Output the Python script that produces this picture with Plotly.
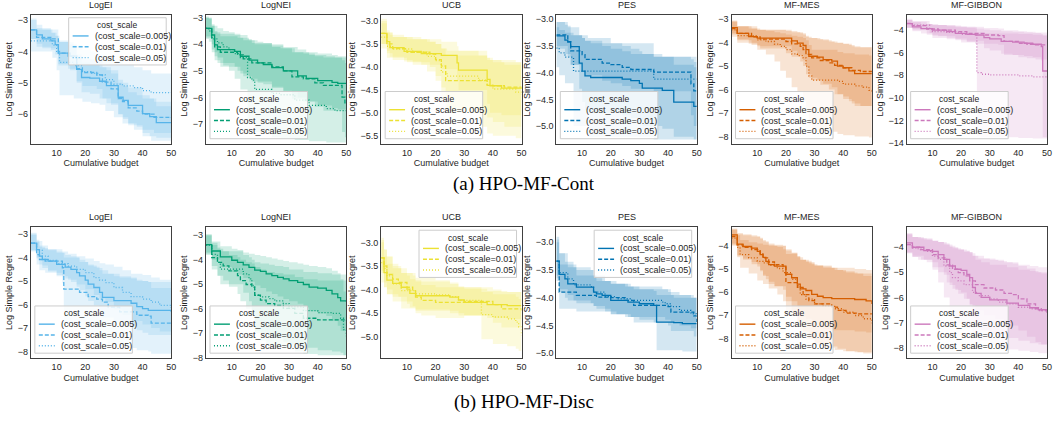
import plotly.graph_objects as go

# ---------------------------------------------------------------- data
# each row: (cumulative budget, mean log simple regret, lower band, upper band)
methods = ["LogEI", "LogNEI", "UCB", "PES", "MF-MES", "MF-GIBBON"]
cost_scales = ["0.005", "0.01", "0.05"]
legend_title = "cost_scale"
captions = ["(a) HPO-MF-Cont", "(b) HPO-MF-Disc"]

# ---- (a) HPO-MF-Cont
cont_logei_005 = [(1, -3.31, -3.6, -2.95), (3, -3.47, -3.75, -3.15), (5, -3.6, -3.9, -3.3), (8, -3.66, -3.95, -3.4),
                  (9.5, -3.78, -4.1, -3.5), (10.6, -4.05, -4.45, -3.65), (14.7, -4.15, -4.6, -3.75), (17, -4.57, -5.0, -4.1),
                  (18.7, -4.83, -5.3, -4.35), (21.6, -4.85, -5.35, -4.4), (25, -4.95, -5.5, -4.5), (27.4, -5.09, -5.65, -4.6),
                  (31.5, -5.46, -6.0, -4.9), (33.2, -5.56, -6.15, -5.0), (35, -5.72, -6.35, -5.15), (40, -5.98, -6.6, -5.4),
                  (42.5, -6.08, -6.7, -5.5), (44.8, -6.27, -6.75, -5.75), (50, -6.28, -6.75, -5.75)]
cont_logei_01 = [(1, -3.31, -3.6, -3.0), (3, -3.55, -3.85, -3.25), (8, -3.6, -3.9, -3.3), (10.6, -4.05, -4.4, -3.7),
                 (14, -4.15, -4.55, -3.8), (17, -4.55, -4.95, -4.15), (19, -4.67, -5.1, -4.25), (24, -4.75, -5.2, -4.3),
                 (26, -4.98, -5.5, -4.5), (29, -5.19, -5.7, -4.7), (31.5, -5.5, -6.0, -5.0), (33, -5.6, -6.1, -5.1),
                 (35, -5.8, -6.3, -5.3), (38, -5.9, -6.4, -5.4), (40, -6.0, -6.5, -5.5), (44, -6.1, -6.6, -5.6),
                 (50, -6.12, -6.6, -5.6)]
cont_logei_05 = [(1, -3.66, -4.0, -3.3), (8.5, -3.8, -4.2, -3.4), (10, -4.0, -4.6, -3.5), (11, -4.35, -5.4, -3.7),
                 (16, -4.45, -5.5, -3.8), (19, -4.64, -5.6, -3.95), (22, -4.7, -5.65, -4.0), (25, -4.75, -5.7, -4.1),
                 (27, -4.9, -5.9, -4.2), (30, -5.04, -6.1, -4.3), (33, -5.1, -6.3, -4.4), (37, -5.15, -6.5, -4.5),
                 (40, -5.25, -6.7, -4.6), (43, -5.31, -6.85, -4.7), (50, -5.32, -6.85, -4.75)]

cont_lognei_005 = [(1, -3.4, -3.7, -3.0), (3, -3.65, -4.0, -3.25), (4, -4.02, -4.45, -3.5), (5, -4.2, -4.7, -3.6),
                   (11, -4.27, -4.85, -3.65), (13, -4.45, -5.1, -3.75), (16, -4.6, -5.3, -3.85), (19, -4.7, -5.45, -3.9),
                   (21, -4.76, -5.5, -3.95), (24, -4.88, -5.65, -4.0), (28, -5.0, -5.8, -4.1), (33, -5.19, -6.0, -4.2),
                   (36, -5.28, -6.15, -4.3), (40, -5.37, -6.3, -4.35), (45, -5.43, -6.4, -4.4), (47, -5.47, -6.45, -4.45),
                   (50, -5.47, -6.45, -4.45)]
cont_lognei_01 = [(1, -3.4, -3.75, -3.0), (3, -3.75, -4.2, -3.3), (4, -4.1, -4.6, -3.55), (6, -4.3, -4.85, -3.7),
                  (12, -4.4, -5.0, -3.75), (14, -4.55, -5.2, -3.85), (17, -4.7, -5.4, -3.95), (24, -4.85, -5.6, -4.05),
                  (28, -5.0, -5.75, -4.15), (31, -5.23, -6.05, -4.3), (35, -5.3, -6.15, -4.35), (39, -5.45, -6.35, -4.45),
                  (42, -5.55, -6.5, -4.5), (48.5, -5.99, -7.3, -4.6), (49.5, -6.2, -7.5, -4.7), (50, -6.2, -7.5, -4.7)]
cont_lognei_05 = [(1, -3.4, -3.8, -2.95), (2, -3.5, -3.9, -3.05), (3, -3.8, -4.3, -3.3), (5, -3.95, -4.5, -3.4),
                  (7, -4.1, -4.8, -3.5), (9, -4.2, -5.0, -3.55), (11, -4.35, -5.3, -3.6), (13, -4.5, -5.7, -3.65),
                  (15.5, -5.25, -6.8, -3.8), (17, -5.35, -7.0, -3.85), (18, -5.7, -7.3, -4.0), (24, -5.85, -7.5, -4.1),
                  (27, -5.9, -7.55, -4.15), (32, -6.1, -7.6, -4.3), (37, -6.3, -7.65, -4.4), (43, -6.42, -7.7, -4.45),
                  (46, -6.5, -7.7, -4.5), (50, -6.52, -7.7, -4.5)]

cont_ucb_005 = [(1, -3.27, -3.5, -2.95), (3, -3.45, -3.65, -3.2), (4, -3.58, -3.78, -3.3), (9, -3.66, -3.88, -3.35),
                (15, -3.71, -3.95, -3.4), (22, -3.75, -4.05, -3.45), (27.5, -3.91, -4.3, -3.55), (28, -4.07, -4.5, -3.65),
                (38, -4.27, -4.8, -3.8), (39, -4.41, -5.0, -3.85), (43, -4.46, -5.05, -3.9), (50, -4.48, -5.1, -3.95)]
cont_ucb_01 = [(1, -3.27, -3.5, -3.0), (3, -3.5, -3.7, -3.25), (5, -3.6, -3.8, -3.35), (10, -3.68, -3.9, -3.4),
               (18, -3.72, -4.0, -3.45), (20, -3.84, -4.2, -3.5), (22, -3.98, -4.45, -3.6), (23.5, -4.3, -4.9, -3.75),
               (38, -4.4, -5.1, -3.85), (40, -4.41, -5.2, -3.9), (44, -4.44, -5.3, -3.95), (50, -4.47, -5.35, -4.0)]
cont_ucb_05 = [(1, -3.35, -3.6, -3.05), (3, -3.55, -3.8, -3.25), (5, -3.61, -3.85, -3.35), (12, -3.68, -3.95, -3.4),
               (17, -3.77, -4.1, -3.45), (20, -3.86, -4.3, -3.5), (22, -4.11, -4.7, -3.6), (24, -4.2, -5.0, -3.65),
               (35, -4.29, -5.3, -3.75), (38, -4.4, -5.45, -3.8), (40, -4.48, -5.5, -3.85), (48, -4.55, -5.55, -3.9),
               (50, -4.61, -5.6, -3.95)]

cont_pes_005 = [(1, -3.31, -3.55, -3.05), (4, -3.39, -3.65, -3.1), (5, -3.42, -3.7, -3.12), (6, -3.51, -3.85, -3.15),
                (9, -3.82, -4.3, -3.3), (10, -3.97, -4.55, -3.35), (11, -4.06, -4.7, -3.4), (13, -4.09, -4.75, -3.45),
                (24, -4.12, -4.8, -3.5), (27, -4.15, -4.85, -3.55), (30, -4.2, -4.9, -3.6), (31, -4.29, -5.0, -3.65),
                (38, -4.33, -5.05, -3.7), (42, -4.55, -5.2, -3.85), (49, -4.63, -5.25, -3.9), (50, -4.64, -5.25, -3.9)]
cont_pes_01 = [(1, -3.29, -3.5, -3.05), (5, -3.42, -3.65, -3.15), (6, -3.59, -3.85, -3.3), (10, -3.66, -3.95, -3.35),
               (11, -3.75, -4.05, -3.4), (17, -3.82, -4.15, -3.5), (20, -3.85, -4.2, -3.55), (24, -3.9, -4.25, -3.6),
               (27, -3.94, -4.3, -3.65), (35, -3.99, -4.35, -3.7), (48, -4.21, -4.8, -3.75), (49, -4.34, -5.0, -3.8),
               (50, -4.35, -5.0, -3.8)]
cont_pes_05 = [(1, -3.54, -3.9, -3.15), (2, -3.63, -4.05, -3.2), (4, -3.71, -4.2, -3.25), (7, -3.97, -5.0, -3.3),
               (12, -3.97, -5.2, -3.35), (20, -3.97, -5.2, -3.45), (35, -4.12, -5.25, -3.7), (50, -4.12, -5.25, -3.75)]

cont_mes_005 = [(1, -3.36, -3.6, -3.1), (3, -3.6, -3.85, -3.3), (7, -3.74, -4.05, -3.4), (10, -3.81, -4.15, -3.45),
                (22, -3.92, -4.35, -3.5), (24, -4.02, -4.55, -3.55), (26, -4.12, -4.75, -3.6), (27, -4.3, -5.05, -3.7),
                (28, -4.58, -5.5, -3.8), (31, -4.62, -5.6, -3.85), (33, -4.72, -5.75, -3.9), (36, -4.79, -5.9, -3.95),
                (38, -5.0, -6.2, -4.0), (40, -5.07, -6.3, -4.05), (42, -5.2, -6.5, -4.1), (44, -5.32, -6.7, -4.2),
                (50, -5.32, -6.8, -4.25)]
cont_mes_01 = [(1, -3.4, -3.65, -3.1), (3, -3.6, -3.9, -3.3), (8, -3.75, -4.1, -3.4), (11, -3.85, -4.25, -3.45),
               (20, -3.95, -4.45, -3.5), (22, -4.05, -4.6, -3.55), (25, -4.16, -4.8, -3.6), (26, -4.3, -5.0, -3.65),
               (27, -4.5, -5.35, -3.75), (29, -4.65, -5.6, -3.8), (32, -4.76, -5.8, -3.85), (35, -4.86, -6.0, -3.95),
               (37, -4.97, -6.2, -4.0), (40, -5.07, -6.4, -4.05), (43, -5.18, -6.6, -4.15), (46, -5.23, -6.7, -4.2),
               (50, -5.28, -6.75, -4.3)]
cont_mes_05 = [(1, -3.45, -3.75, -3.05), (3, -3.7, -4.0, -3.3), (10, -3.88, -4.3, -3.45), (13, -3.95, -4.5, -3.5),
               (16, -4.06, -4.8, -3.55), (18, -4.16, -5.2, -3.6), (20, -4.3, -5.5, -3.65), (22, -4.48, -5.9, -3.7),
               (24, -4.55, -6.1, -3.75), (26, -4.65, -6.5, -3.8), (27, -5.0, -7.0, -3.9), (28, -5.42, -7.5, -4.1),
               (29, -5.6, -7.8, -4.3), (38, -5.65, -7.9, -4.4), (40, -5.77, -7.95, -4.45), (44, -5.84, -8.0, -4.5),
               (47, -5.9, -8.0, -4.5), (49, -6.04, -8.05, -4.55), (50, -6.16, -8.05, -4.6)]

cont_gibbon_005 = [(1, -3.42, -3.8, -3.1), (3, -3.71, -4.1, -3.3), (6, -3.86, -4.3, -3.45), (10, -4.0, -4.5, -3.55),
                   (15, -4.14, -4.7, -3.65), (18, -4.29, -4.9, -3.75), (22, -4.38, -5.05, -3.8), (25, -4.43, -5.2, -3.85),
                   (28, -4.67, -5.6, -3.95), (30, -4.78, -5.8, -4.0), (34, -5.0, -6.1, -4.1), (38, -5.07, -6.2, -4.15),
                   (42, -5.16, -6.3, -4.2), (45, -5.25, -6.4, -4.25), (48, -5.45, -6.7, -4.35), (48.5, -7.62, -13.5, -4.5),
                   (50, -7.62, -13.5, -4.5)]
cont_gibbon_01 = [(1, -3.4, -3.8, -3.0), (3, -3.6, -4.0, -3.25), (8, -3.9, -4.4, -3.45), (12, -4.0, -4.55, -3.55),
                  (18, -4.14, -4.75, -3.65), (22, -4.29, -4.95, -3.7), (28, -4.43, -5.2, -3.8), (33, -4.49, -5.3, -3.85),
                  (35, -5.0, -6.2, -4.0), (40, -5.16, -6.4, -4.1), (43, -5.25, -6.5, -4.15), (46, -5.3, -6.6, -4.2),
                  (50, -5.3, -6.6, -4.2)]
cont_gibbon_05 = [(1, -3.42, -3.75, -3.1), (3, -3.56, -3.9, -3.2), (9, -3.86, -4.25, -3.45), (10, -4.14, -4.7, -3.55),
                  (15, -4.2, -4.8, -3.6), (20, -4.38, -5.1, -3.7), (25, -4.43, -5.2, -3.75), (25.5, -7.77, -13.4, -4.2),
                  (27, -7.91, -13.5, -4.25), (30, -7.97, -13.5, -4.3), (40, -8.06, -13.55, -4.35), (45, -8.14, -13.6, -4.4),
                  (50, -8.14, -13.6, -4.4)]

# ---- (b) HPO-MF-Disc
disc_logei_005 = [(1, -3.39, -3.7, -3.0), (3, -3.67, -4.0, -3.25), (4, -3.95, -4.3, -3.5), (5, -4.09, -4.45, -3.6),
                  (7, -4.16, -4.55, -3.7), (10, -4.3, -4.75, -3.8), (13, -4.41, -4.9, -3.9), (15, -4.51, -5.05, -3.95),
                  (17, -4.65, -5.25, -4.0), (18, -4.79, -5.4, -4.1), (20, -4.97, -5.65, -4.2), (21, -5.14, -5.85, -4.3),
                  (23, -5.28, -6.05, -4.4), (25, -5.49, -6.3, -4.55), (26, -5.7, -6.55, -4.7), (30, -5.84, -6.75, -4.8),
                  (36, -5.95, -6.9, -4.9), (38, -6.09, -7.1, -4.95), (40, -6.18, -7.2, -5.0), (42, -6.25, -7.3, -5.05),
                  (50, -6.32, -7.4, -5.1)]
disc_logei_01 = [(1, -3.39, -3.75, -2.95), (3, -3.88, -4.3, -3.35), (4, -4.09, -4.55, -3.55), (6, -4.16, -4.65, -3.65),
                 (12, -4.44, -5.1, -3.8), (12.5, -5.35, -6.8, -4.0), (18, -5.49, -7.0, -4.2), (21, -5.67, -7.2, -4.35),
                 (24, -5.77, -7.35, -4.45), (26, -5.9, -7.5, -4.55), (28, -6.11, -7.7, -4.7), (32, -6.32, -7.85, -4.85),
                 (38, -6.46, -7.95, -5.0), (42, -6.5, -8.0, -5.05), (43, -6.79, -8.1, -5.3), (50, -6.79, -8.1, -5.3)]
disc_logei_05 = [(1, -3.4, -3.7, -3.05), (3, -3.7, -4.05, -3.3), (5, -3.95, -4.35, -3.5), (7, -4.13, -4.6, -3.65),
                 (10, -4.27, -4.8, -3.75), (14, -4.37, -4.95, -3.85), (17, -4.51, -5.15, -3.95), (20, -4.65, -5.35, -4.05),
                 (23, -4.86, -5.6, -4.15), (25, -4.97, -5.75, -4.25), (27, -5.07, -5.9, -4.3), (30, -5.28, -6.2, -4.4),
                 (33, -5.49, -6.45, -4.55), (36, -5.67, -6.7, -4.7), (40, -5.77, -6.85, -4.75), (43, -5.9, -7.0, -4.85),
                 (46, -6.04, -7.15, -4.95), (50, -6.14, -7.25, -5.0)]

disc_lognei_005 = [(1, -3.38, -3.7, -3.0), (3, -3.64, -4.0, -3.25), (6, -3.88, -4.3, -3.45), (10, -4.02, -4.5, -3.55),
                   (12, -4.11, -4.6, -3.6), (14, -4.21, -4.75, -3.7), (16, -4.31, -4.9, -3.75), (18, -4.42, -5.05, -3.8),
                   (20, -4.47, -5.15, -3.85), (22, -4.58, -5.3, -3.9), (24, -4.65, -5.4, -3.95), (26, -4.72, -5.5, -4.0),
                   (28, -4.78, -5.6, -4.05), (30, -4.85, -5.7, -4.1), (33, -4.92, -5.8, -4.15), (35, -5.01, -5.95, -4.2),
                   (37, -5.12, -6.1, -4.25), (40, -5.16, -6.2, -4.3), (43, -5.25, -6.3, -4.35), (45, -5.39, -6.5, -4.45),
                   (47, -5.55, -6.7, -4.55), (48, -5.68, -6.9, -4.6), (50, -5.72, -6.95, -4.65)]
disc_lognei_01 = [(1, -3.38, -3.8, -2.95), (3, -3.91, -4.4, -3.4), (5, -4.11, -4.65, -3.55), (7, -4.25, -4.85, -3.65),
                  (9, -4.45, -5.1, -3.8), (12, -4.65, -5.4, -3.9), (13, -4.85, -5.7, -4.0), (15, -5.01, -6.0, -4.1),
                  (17, -5.12, -6.3, -4.15), (18, -5.45, -7.0, -4.3), (20, -5.65, -7.3, -4.4), (22, -5.79, -7.45, -4.5),
                  (25, -5.87, -7.55, -4.55), (28, -5.99, -7.65, -4.6), (32, -6.19, -7.75, -4.7), (35, -6.39, -7.85, -4.8),
                  (40, -6.46, -7.9, -4.85), (50, -6.49, -7.95, -4.9)]
disc_lognei_05 = [(1, -3.4, -3.75, -3.0), (3, -3.78, -4.25, -3.3), (5, -4.11, -4.65, -3.5), (6, -4.38, -5.0, -3.65),
                  (14, -4.58, -5.35, -3.8), (16, -4.78, -5.7, -3.9), (17, -5.05, -6.2, -4.0), (18, -5.45, -6.9, -4.1),
                  (20, -5.52, -7.0, -4.15), (23, -5.59, -7.1, -4.2), (25, -5.68, -7.2, -4.25), (28, -5.79, -7.35, -4.3),
                  (30, -5.92, -7.45, -4.4), (35, -6.08, -7.6, -4.5), (40, -6.16, -7.7, -4.55), (45, -6.19, -7.75, -4.6),
                  (48, -6.39, -7.8, -4.8), (49, -6.86, -7.9, -5.3), (50, -7.13, -7.95, -5.6)]

disc_ucb_005 = [(1, -3.33, -3.6, -3.0), (2, -3.64, -3.95, -3.3), (3, -3.8, -4.1, -3.45), (5, -3.87, -4.15, -3.55),
                (8, -3.95, -4.25, -3.65), (10, -3.99, -4.3, -3.7), (11, -4.08, -4.38, -3.78), (13, -4.13, -4.42, -3.83),
                (25, -4.16, -4.45, -3.88), (28, -4.22, -4.5, -3.93), (30, -4.27, -4.55, -3.98), (38, -4.32, -4.6, -4.03),
                (45, -4.34, -4.62, -4.05), (50, -4.34, -4.62, -4.05)]
disc_ucb_01 = [(1, -3.33, -3.65, -2.9), (2, -3.5, -3.85, -3.15), (3, -3.68, -4.0, -3.3), (5, -3.78, -4.1, -3.45),
               (7, -3.85, -4.15, -3.55), (10, -3.95, -4.25, -3.65), (12, -4.02, -4.35, -3.7), (13, -4.16, -4.5, -3.8),
               (15, -4.23, -4.55, -3.9), (20, -4.27, -4.6, -3.95), (30, -4.25, -4.55, -3.95), (40, -4.32, -4.7, -4.0),
               (43, -4.41, -4.8, -4.05), (50, -4.44, -4.85, -4.1)]
disc_ucb_05 = [(1, -3.43, -3.85, -2.95), (2, -3.55, -3.95, -3.15), (3, -3.71, -4.1, -3.3), (5, -3.88, -4.25, -3.5),
               (8, -4.02, -4.4, -3.65), (13, -4.09, -4.45, -3.75), (20, -4.11, -4.45, -3.8), (25, -4.15, -4.5, -3.85),
               (28, -4.23, -4.55, -3.95), (36, -4.53, -5.05, -4.05), (40, -4.58, -5.15, -4.1), (45, -4.62, -5.2, -4.1),
               (48, -4.69, -5.25, -4.15), (49, -4.79, -5.3, -4.2), (50, -4.97, -5.35, -4.4)]

disc_pes_005 = [(1, -3.34, -3.65, -2.9), (2, -3.58, -3.9, -3.2), (4, -3.66, -4.0, -3.35), (5, -3.75, -4.05, -3.45),
                (8, -3.81, -4.1, -3.5), (14, -3.9, -4.15, -3.6), (15, -3.93, -4.2, -3.65), (17, -3.96, -4.2, -3.7),
                (20, -4.05, -4.3, -3.75), (26, -4.08, -4.35, -3.8), (30, -4.11, -4.4, -3.85), (35, -4.14, -4.45, -3.88),
                (36, -4.44, -4.95, -3.95), (42, -4.45, -4.95, -4.0), (45, -4.47, -4.97, -4.0), (50, -4.47, -4.97, -4.05)]
disc_pes_01 = [(1, -3.34, -3.7, -2.95), (2, -3.9, -4.2, -3.4), (8, -3.96, -4.25, -3.6), (15, -3.99, -4.25, -3.7),
               (20, -4.0, -4.3, -3.75), (25, -4.05, -4.35, -3.8), (28, -4.14, -4.45, -3.85), (40, -4.16, -4.5, -3.9),
               (41, -4.26, -4.6, -3.95), (49, -4.33, -4.7, -4.0), (50, -4.44, -4.8, -4.05)]
disc_pes_05 = [(1, -3.34, -3.6, -3.0), (2, -3.55, -3.85, -3.2), (5, -3.66, -3.95, -3.35), (7, -3.77, -4.05, -3.45),
               (13, -3.8, -4.1, -3.5), (14, -3.9, -4.15, -3.6), (18, -3.98, -4.25, -3.7), (22, -4.02, -4.3, -3.75),
               (27, -4.05, -4.35, -3.8), (38, -4.08, -4.35, -3.85), (39, -4.11, -4.4, -3.85), (41, -4.16, -4.45, -3.9),
               (44, -4.23, -4.5, -3.95), (48, -4.29, -4.55, -4.0), (50, -4.32, -4.6, -4.05)]

disc_mes_005 = [(1, -3.53, -3.9, -3.3), (3, -3.93, -4.4, -3.45), (5, -4.03, -4.55, -3.5), (8, -4.1, -4.7, -3.55),
                (10, -4.24, -4.9, -3.6), (11, -4.38, -5.1, -3.65), (12, -4.5, -5.25, -3.75), (13, -4.67, -5.45, -3.85),
                (14, -4.81, -5.65, -3.95), (16, -4.88, -5.75, -4.0), (20, -5.23, -6.2, -4.2), (22, -5.38, -6.4, -4.3),
                (24, -5.66, -6.8, -4.45), (25, -5.86, -7.05, -4.6), (27, -5.93, -7.15, -4.65), (29, -6.1, -7.4, -4.8),
                (31, -6.18, -7.5, -4.85), (33, -6.24, -7.6, -4.9), (36, -6.28, -7.65, -4.95), (44, -6.32, -7.7, -5.0),
                (48, -6.38, -7.75, -5.05), (50, -6.51, -7.8, -5.15)]
disc_mes_01 = [(1, -3.6, -3.95, -3.25), (3, -3.96, -4.45, -3.5), (5, -4.07, -4.6, -3.55), (8, -4.17, -4.8, -3.6),
               (11, -4.35, -5.05, -3.7), (12, -4.52, -5.3, -3.8), (14, -4.7, -5.55, -3.9), (16, -4.81, -5.75, -3.95),
               (19, -4.92, -5.9, -4.0), (20, -5.59, -6.9, -4.35), (24, -5.8, -7.3, -4.5), (26, -6.11, -7.7, -4.6),
               (28, -6.37, -8.0, -4.75), (30, -6.51, -8.2, -4.85), (36, -6.65, -8.35, -4.95), (38, -6.79, -8.45, -5.05),
               (41, -6.91, -8.55, -5.15), (45, -6.94, -8.6, -5.2), (50, -6.96, -8.6, -5.25)]
disc_mes_05 = [(1, -3.67, -4.0, -3.3), (3, -4.07, -4.5, -3.55), (4, -4.38, -4.95, -3.75), (7, -4.52, -5.2, -3.85),
               (10, -4.67, -5.5, -3.9), (12, -4.74, -5.65, -3.95), (14, -4.84, -5.85, -4.0), (17, -4.98, -6.1, -4.05),
               (19, -5.16, -6.4, -4.15), (22, -5.45, -6.85, -4.3), (24, -5.73, -7.3, -4.45), (25, -6.11, -7.8, -4.6),
               (27, -6.3, -8.05, -4.7), (30, -6.51, -8.3, -4.85), (33, -6.62, -8.4, -4.95), (37, -6.72, -8.5, -5.05),
               (40, -6.87, -8.55, -5.1), (44, -7.01, -8.6, -5.2), (47, -7.15, -8.65, -5.3), (50, -7.35, -8.7, -5.4)]

disc_gibbon_005 = [(1, -3.84, -4.2, -3.45), (3, -4.01, -4.35, -3.6), (7, -4.14, -4.5, -3.7), (10, -4.17, -4.6, -3.75),
                   (12, -4.3, -4.8, -3.8), (14, -4.49, -5.1, -3.85), (16, -4.75, -5.5, -3.95), (18, -4.88, -5.7, -4.05),
                   (20, -4.92, -5.8, -4.1), (22, -5.08, -6.05, -4.15), (23, -5.21, -6.25, -4.2), (24, -5.6, -6.8, -4.35),
                   (25, -5.83, -7.1, -4.5), (27, -5.99, -7.3, -4.6), (30, -6.09, -7.45, -4.7), (36, -6.22, -7.6, -4.8),
                   (40, -6.31, -7.7, -4.9), (44, -6.4, -7.8, -4.95), (47, -6.48, -7.85, -5.0), (50, -6.51, -7.9, -5.05)]
disc_gibbon_01 = [(1, -3.91, -4.25, -3.5), (3, -4.01, -4.4, -3.6), (6, -4.1, -4.5, -3.65), (10, -4.3, -4.8, -3.75),
                  (12, -4.43, -5.0, -3.8), (15, -4.71, -5.4, -3.9), (17, -4.88, -5.65, -4.0), (19, -5.01, -5.85, -4.1),
                  (21, -5.14, -6.05, -4.15), (23, -5.34, -6.3, -4.25), (25, -5.49, -6.5, -4.35), (28, -5.62, -6.7, -4.45),
                  (32, -5.7, -6.85, -4.5), (35, -5.83, -7.0, -4.6), (38, -5.88, -7.1, -4.65), (40, -6.05, -7.3, -4.75),
                  (43, -6.25, -7.55, -4.85), (46, -6.44, -7.75, -5.0), (48, -6.51, -7.85, -5.05), (50, -6.64, -7.95, -5.1)]
disc_gibbon_05 = [(1, -3.91, -4.25, -3.5), (3, -4.04, -4.4, -3.6), (5, -4.1, -4.5, -3.65), (8, -4.17, -4.6, -3.7),
                  (10, -4.36, -4.9, -3.75), (12, -4.49, -5.4, -3.8), (14, -4.75, -6.0, -3.9), (16, -5.01, -6.5, -4.0),
                  (17, -5.21, -6.8, -4.05), (19, -5.34, -7.0, -4.1), (21, -5.49, -7.2, -4.2), (24, -5.79, -7.5, -4.35),
                  (26, -5.92, -7.7, -4.45), (30, -6.05, -7.9, -4.5), (33, -6.18, -8.0, -4.55), (36, -6.25, -8.05, -4.6),
                  (40, -6.38, -8.1, -4.7), (44, -6.44, -8.15, -4.75), (47, -6.51, -8.2, -4.8), (50, -6.61, -8.25, -4.85)]

cont_panels = [(cont_logei_005, cont_logei_01, cont_logei_05), (cont_lognei_005, cont_lognei_01, cont_lognei_05),
               (cont_ucb_005, cont_ucb_01, cont_ucb_05), (cont_pes_005, cont_pes_01, cont_pes_05),
               (cont_mes_005, cont_mes_01, cont_mes_05), (cont_gibbon_005, cont_gibbon_01, cont_gibbon_05)]
disc_panels = [(disc_logei_005, disc_logei_01, disc_logei_05), (disc_lognei_005, disc_lognei_01, disc_lognei_05),
               (disc_ucb_005, disc_ucb_01, disc_ucb_05), (disc_pes_005, disc_pes_01, disc_pes_05),
               (disc_mes_005, disc_mes_01, disc_mes_05), (disc_gibbon_005, disc_gibbon_01, disc_gibbon_05)]

# ---------------------------------------------------------------- style / layout
W, H = 1053, 429
colors = ["#56B4E9", "#029E73", "#ECE133", "#0173B2", "#D55E00", "#CC78BC"]
dashes = ["solid", "4px,2px", "1px,2px"]
cont_yranges = [[-6.94, -2.83], [-7.74, -2.89], [-5.67, -2.865], [-5.33, -2.915], [-8.31, -2.81], [-14.06, -2.64]]
disc_yranges = [[-8.28, -2.72], [-8.02, -2.67], [-5.45, -2.68], [-5.09, -2.73], [-8.85, -3.2], [-8.39, -3.22]]
cont_dtick = [1, 1, 0.5, 0.5, 1, 2]
disc_dtick = [1, 1, 0.5, 0.5, 1, 1]
cont_legend_upper = [True, False, False, False, False, False]
disc_legend_upper = [False, False, True, True, False, False]
row_px = [(13, 144), (229, 362)]  # top, bottom of plot boxes (pixels)
LEG_W, LEG_H = 98, 48
FONT = "Liberation Sans, Arial, sans-serif"
TXT = "#262626"
BAND_ALPHA = 0.17


def rgba(hexc, a):
    h = hexc.lstrip("#")
    return "rgba(%d,%d,%d,%.2f)" % (int(h[0:2], 16), int(h[2:4], 16), int(h[4:6], 16), a)


def px_x(p):
    return p / W


def px_y(p):
    return 1 - p / H


fig = go.Figure()
layout = dict(width=W, height=H, margin=dict(l=0, r=0, t=0, b=0), plot_bgcolor="white",
              paper_bgcolor="white", font=dict(family=FONT, color=TXT, size=9), showlegend=False,
              hovermode=False)
annotations = []
shapes = []

for r, (panels, yranges, dticks, upper) in enumerate([(cont_panels, cont_yranges, cont_dtick, cont_legend_upper),
                                                       (disc_panels, disc_yranges, disc_dtick, disc_legend_upper)]):
    top, bot = row_px[r]
    for c in range(6):
        k = r * 6 + c + 1
        xa = "x" if k == 1 else "x%d" % k
        ya = "y" if k == 1 else "y%d" % k
        left = 31 + 176 * c
        right = left + 141
        col = colors[c]
        # shaded bands
        for s, series in enumerate(panels[c]):
            xs = [row[0] for row in series]
            lo = [row[2] for row in series]
            hi = [row[3] for row in series]
            fig.add_trace(go.Scatter(x=xs, y=lo, mode="lines", line=dict(width=0, shape="hv"),
                                     xaxis=xa, yaxis=ya, showlegend=False, hoverinfo="skip"))
            fig.add_trace(go.Scatter(x=xs, y=hi, mode="lines", line=dict(width=0, shape="hv"),
                                     fill="tonexty", fillcolor=rgba(col, BAND_ALPHA),
                                     xaxis=xa, yaxis=ya, showlegend=False, hoverinfo="skip"))
        # mean lines
        for s, series in enumerate(panels[c]):
            xs = [row[0] for row in series]
            m = [row[1] for row in series]
            fig.add_trace(go.Scatter(x=xs, y=m, mode="lines",
                                     line=dict(color=col, width=1.3, shape="hv", dash=dashes[s]),
                                     name="(cost_scale=%s)" % cost_scales[s], showlegend=False,
                                     xaxis=xa, yaxis=ya))
        axis_common = dict(showline=True, mirror=True, linecolor="#404040", linewidth=1.2,
                           ticks="", showgrid=False, zeroline=False, tickfont=dict(size=9, color=TXT))
        layout["xaxis" if k == 1 else "xaxis%d" % k] = dict(
            axis_common, domain=[px_x(left), px_x(right)], anchor=ya, range=[1, 50],
            tickvals=[10, 20, 30, 40, 50],
            title=dict(text="Cumulative budget", font=dict(size=9, color=TXT), standoff=3))
        layout["yaxis" if k == 1 else "yaxis%d" % k] = dict(
            axis_common, domain=[px_y(bot), px_y(top)], anchor=xa, range=yranges[c],
            dtick=dticks[c], tick0=0, tickformat=".1f" if dticks[c] < 1 else "d",
            title=dict(text="Log Simple Regret", font=dict(size=9, color=TXT), standoff=3))

        # legend box (drawn in figure pixels, like matplotlib's legend)
        if upper[c]:
            bx, by = right - 5 - LEG_W, top + 3
        else:
            bx, by = left + 4, bot - 5 - LEG_H
        shapes.append(dict(type="rect", xref="paper", yref="paper", x0=px_x(bx), x1=px_x(bx + LEG_W),
                           y0=px_y(by), y1=px_y(by + LEG_H), line=dict(color="#cccccc", width=1),
                           fillcolor="rgba(255,255,255,0.8)", layer="above"))
        annotations.append(dict(text=legend_title, x=px_x(bx + LEG_W / 2), y=px_y(by + 7.5), xref="paper",
                                yref="paper", xanchor="center", yanchor="middle", showarrow=False,
                                font=dict(size=8.5, color=TXT)))
        for s in range(3):
            yy = by + 18.5 + 11 * s
            shapes.append(dict(type="line", xref="paper", yref="paper", x0=px_x(bx + 4), x1=px_x(bx + 20),
                               y0=px_y(yy), y1=px_y(yy), line=dict(color=col, width=1.4, dash=dashes[s]),
                               layer="above"))
            annotations.append(dict(text="(cost_scale=%s)" % cost_scales[s], x=px_x(bx + 24), y=px_y(yy),
                                    xref="paper", yref="paper", xanchor="left", yanchor="middle",
                                    showarrow=False, font=dict(size=9, color=TXT)))

        annotations.append(dict(text=methods[c], x=px_x((left + right) / 2), y=px_y(top - 3),
                                xref="paper", yref="paper", xanchor="center", yanchor="bottom",
                                showarrow=False, font=dict(size=9, color=TXT)))

for cap, ypx in zip(captions, [185, 407]):
    annotations.append(dict(text=cap, x=0.5, y=px_y(ypx), xref="paper", yref="paper",
                            xanchor="center", yanchor="middle", showarrow=False,
                            font=dict(family="Liberation Serif, Times New Roman, serif", size=19, color="black")))
layout["annotations"] = annotations
layout["shapes"] = shapes
fig.update_layout(**layout)

fig.write_html("out.html", config={"displayModeBar": False},
               post_script="document.body.style.margin='0';document.body.style.padding='0';")
